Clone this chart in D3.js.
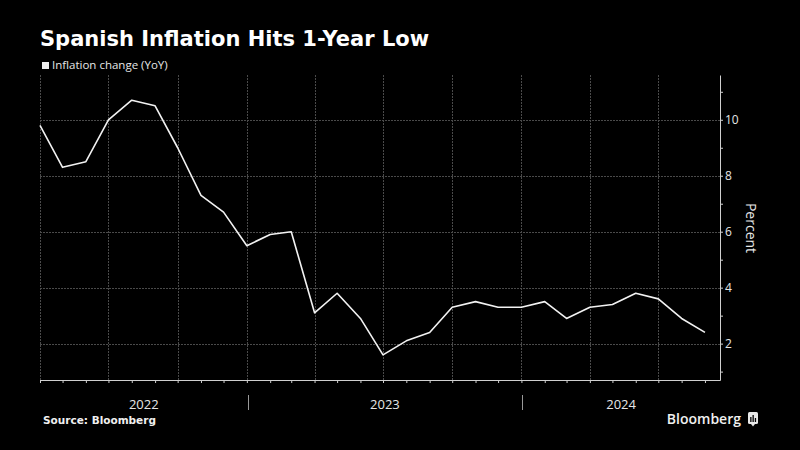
<!DOCTYPE html>
<html>
<head>
<meta charset="utf-8">
<script src="https://cdn.jsdelivr.net/npm/d3@7"></script>
<style>
  html, body { margin: 0; padding: 0; background: #000; }
  svg { display: block; }
</style>
</head>
<body>
<svg id="chart" width="800" height="450"></svg>
<script>
// ---- Data ----
const title = "Spanish Inflation Hits 1-Year Low";
const seriesName = "Inflation change (YoY)";
const source = "Source: Bloomberg";
const months = [
  "2022-03","2022-04","2022-05","2022-06","2022-07","2022-08","2022-09","2022-10","2022-11","2022-12",
  "2023-01","2023-02","2023-03","2023-04","2023-05","2023-06","2023-07","2023-08","2023-09","2023-10",
  "2023-11","2023-12","2024-01","2024-02","2024-03","2024-04","2024-05","2024-06","2024-07","2024-08"
];
const inflation = [
  9.8, 8.3, 8.5, 10.0, 10.7, 10.5, 9.0, 7.3, 6.7, 5.5,
  5.9, 6.0, 3.1, 3.8, 2.9, 1.6, 2.1, 2.4, 3.3, 3.5,
  3.3, 3.3, 3.5, 2.9, 3.3, 3.4, 3.8, 3.6, 2.9, 2.4
];
const yTicks = [2, 4, 6, 8, 10];
const yMinorTicks = [1, 3, 5, 7, 9, 11];
const yearLabels = ["2022", "2023", "2024"];
const yLabel = "Percent";

// ---- Setup ----
const svg = d3.select("#chart");
svg.append("rect").attr("width", 800).attr("height", 450).attr("fill", "#000");

// month-end dates
const monthEnd = m => { const [y, mo] = m.split("-").map(Number); return new Date(y, mo, 0); };
const data = months.map((m, i) => ({ date: monthEnd(m), value: inflation[i] }));

const x = d3.scaleTime()
  .domain([new Date(2022, 2, 31), new Date(2024, 8, 20)])
  .range([40, 720]);
const y = d3.scaleLinear().domain([0.7, 11.6]).range([380, 75]);

const gridColor = "#4a4a4a";
const axisColor = "#d0d0d0";
const textColor = "#e6e6e6";

// horizontal gridlines
svg.append("g").selectAll("line").data(yTicks).join("line")
  .attr("x1", x.range()[0]).attr("x2", x.range()[1])
  .attr("y1", d => Math.round(y(d)) + 0.5).attr("y2", d => Math.round(y(d)) + 0.5)
  .attr("stroke", gridColor).attr("stroke-width", 1)
  .attr("stroke-dasharray", "2,1");

// vertical quarterly gridlines (quarter ends)
const quarterEnds = data.filter((d, i) => i % 3 === 0).map(d => d.date);
svg.append("g").selectAll("line").data(quarterEnds).join("line")
  .attr("x1", d => Math.round(x(d)) + 0.5).attr("x2", d => Math.round(x(d)) + 0.5)
  .attr("y1", y.range()[1]).attr("y2", y.range()[0])
  .attr("stroke", gridColor).attr("stroke-width", 1)
  .attr("stroke-dasharray", "2,1");

// x axis with monthly ticks
const xAxis = d3.axisBottom(x)
  .tickValues(data.map(d => d.date))
  .tickSize(3).tickSizeOuter(0).tickFormat("");
const gx = svg.append("g").attr("transform", "translate(0,380)").call(xAxis);
gx.selectAll("path,line").attr("stroke", axisColor);

// y axis on right
const yAxis = d3.axisRight(y)
  .tickValues(yTicks.concat(yMinorTicks))
  .tickSize(3).tickSizeOuter(0)
  .tickFormat(d => yTicks.includes(d) ? d : "");
const gy = svg.append("g").attr("transform", "translate(720,0)").call(yAxis);
gy.selectAll("path,line").attr("stroke", axisColor);
gy.selectAll("text").attr("fill", textColor)
  .attr("font-family", "'Open Sans', sans-serif").attr("font-size", 12).attr("x", 5);

// y label
svg.append("text")
  .attr("transform", "translate(746,228) rotate(90)")
  .attr("text-anchor", "middle")
  .attr("fill", textColor)
  .attr("font-family", "'Open Sans', sans-serif").attr("font-size", 14)
  .text(yLabel);

// year labels centered in year spans
const yearStarts = [x.domain()[0], new Date(2023, 0, 1), new Date(2024, 0, 1), x.domain()[1]];
svg.append("g").selectAll("text").data(yearLabels).join("text")
  .attr("x", (d, i) => (x(yearStarts[i]) + x(yearStarts[i + 1])) / 2)
  .attr("y", 409)
  .attr("text-anchor", "middle")
  .attr("fill", textColor)
  .attr("font-family", "'Open Sans', sans-serif").attr("font-size", 13)
  .text(d => d);

// year separators
svg.append("g").selectAll("line").data(yearStarts.slice(1, 3)).join("line")
  .attr("x1", d => Math.round(x(d)) + 0.5).attr("x2", d => Math.round(x(d)) + 0.5)
  .attr("y1", 395).attr("y2", 410)
  .attr("stroke", "#999").attr("stroke-width", 1);

// line
const line = d3.line().x(d => x(d.date)).y(d => y(d.value));
svg.append("path").datum(data)
  .attr("d", line)
  .attr("fill", "none")
  .attr("stroke", "#f2f2f2")
  .attr("stroke-width", 1.6)
  .attr("stroke-linejoin", "round");

// title
svg.append("text")
  .attr("x", 40).attr("y", 46)
  .attr("fill", "#ffffff")
  .attr("font-family", "'DejaVu Sans', sans-serif").attr("font-weight", "bold")
  .attr("font-size", 21)
  .text(title);

// legend
svg.append("rect").attr("x", 42).attr("y", 62).attr("width", 7).attr("height", 7).attr("fill", "#eee");
svg.append("text")
  .attr("x", 52).attr("y", 69)
  .attr("fill", textColor)
  .attr("font-family", "'Open Sans', sans-serif").attr("font-size", 11.5)
  .text(seriesName);

// source
svg.append("text")
  .attr("x", 43).attr("y", 424)
  .attr("fill", "#f0f0f0")
  .attr("font-family", "'DejaVu Sans', sans-serif").attr("font-weight", "bold")
  .attr("font-size", 10.5)
  .text(source);

// Bloomberg logo text + icon
svg.append("text")
  .attr("x", 741).attr("y", 424)
  .attr("text-anchor", "end")
  .attr("fill", "#f0f0f0")
  .attr("font-family", "'Open Sans', sans-serif").attr("font-weight", "600")
  .attr("font-size", 14)
  .text("Bloomberg");
const icon = svg.append("g").attr("transform", "translate(748,412)");
icon.append("rect").attr("width", 10).attr("height", 12).attr("rx", 1.5).attr("fill", "#e8e8e8");
icon.append("path").attr("d", "M3,12 L5,14.5 L7,12 Z").attr("fill", "#e8e8e8");
[[2.2, 5, 5], [4.5, 3, 7], [6.8, 6, 4]].forEach(([bx, by, bh]) =>
  icon.append("rect").attr("x", bx).attr("y", by).attr("width", 1.3).attr("height", bh).attr("fill", "#000"));
</script>
</body>
</html>
